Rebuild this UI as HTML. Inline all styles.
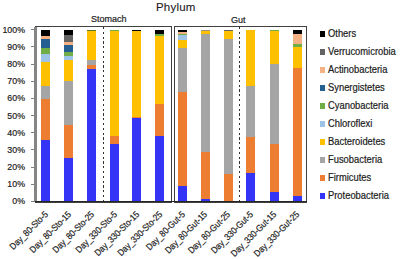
<!DOCTYPE html>
<html><head><meta charset="utf-8">
<style>
html,body{margin:0;padding:0;background:#fff;}
body{width:400px;height:259px;position:relative;overflow:hidden;font-family:"Liberation Sans",sans-serif;color:#202020;-webkit-text-stroke:0.2px #202020;}
.a{position:absolute;}
.t{position:absolute;white-space:nowrap;line-height:1;}
.yl{position:absolute;white-space:nowrap;line-height:1;font-size:9.8px;text-align:right;width:30px;transform:scaleX(0.9);transform-origin:100% 50%;}
.xl{position:absolute;white-space:nowrap;line-height:1;font-size:9.2px;transform-origin:100% 0;transform:rotate(-45deg) scaleX(0.88);text-align:right;}
.lg{position:absolute;white-space:nowrap;line-height:1;font-size:10.2px;transform:scaleX(0.92);transform-origin:0 50%;}
.sq{position:absolute;width:5.3px;height:5.3px;}
</style></head><body>

<div class="t" style="left:156px;top:2px;font-size:11.5px;letter-spacing:0.2px;color:#1a1a1a;-webkit-text-stroke:0.1px #1a1a1a">Phylum</div>
<div class="t" style="left:91.3px;top:13.5px;font-size:9.6px;transform:scaleX(0.94);transform-origin:0 0">Stomach</div>
<div class="t" style="left:231px;top:14.7px;font-size:9.6px;transform:scaleX(0.94);transform-origin:0 0">Gut</div>
<div class="yl" style="left:-5.199999999999999px;top:24.60px">100%</div>
<div class="a" style="left:31px;top:29.20px;width:4px;height:1px;background:#7f7f7f"></div>
<div class="yl" style="left:-5.199999999999999px;top:41.78px">90%</div>
<div class="a" style="left:31px;top:46.38px;width:4px;height:1px;background:#7f7f7f"></div>
<div class="yl" style="left:-5.199999999999999px;top:58.96px">80%</div>
<div class="a" style="left:31px;top:63.56px;width:4px;height:1px;background:#7f7f7f"></div>
<div class="yl" style="left:-5.199999999999999px;top:76.14px">70%</div>
<div class="a" style="left:31px;top:80.74px;width:4px;height:1px;background:#7f7f7f"></div>
<div class="yl" style="left:-5.199999999999999px;top:93.32px">60%</div>
<div class="a" style="left:31px;top:97.92px;width:4px;height:1px;background:#7f7f7f"></div>
<div class="yl" style="left:-5.199999999999999px;top:110.50px">50%</div>
<div class="a" style="left:31px;top:115.10px;width:4px;height:1px;background:#7f7f7f"></div>
<div class="yl" style="left:-5.199999999999999px;top:127.68px">40%</div>
<div class="a" style="left:31px;top:132.28px;width:4px;height:1px;background:#7f7f7f"></div>
<div class="yl" style="left:-5.199999999999999px;top:144.86px">30%</div>
<div class="a" style="left:31px;top:149.46px;width:4px;height:1px;background:#7f7f7f"></div>
<div class="yl" style="left:-5.199999999999999px;top:162.04px">20%</div>
<div class="a" style="left:31px;top:166.64px;width:4px;height:1px;background:#7f7f7f"></div>
<div class="yl" style="left:-5.199999999999999px;top:179.22px">10%</div>
<div class="a" style="left:31px;top:183.82px;width:4px;height:1px;background:#7f7f7f"></div>
<div class="yl" style="left:-5.199999999999999px;top:196.40px">0%</div>
<div class="a" style="left:31px;top:201.00px;width:4px;height:1px;background:#7f7f7f"></div>
<div class="a" style="left:41.2px;top:29.7px;width:9.1px;height:171.80px;background:#000000"></div>
<div class="a" style="left:41.2px;top:36px;width:9.1px;height:165.50px;background:#F4B183"></div>
<div class="a" style="left:41.2px;top:38.6px;width:9.1px;height:162.90px;background:#255E91"></div>
<div class="a" style="left:41.2px;top:47.8px;width:9.1px;height:153.70px;background:#70AD47"></div>
<div class="a" style="left:41.2px;top:53.8px;width:9.1px;height:147.70px;background:#9DC3E6"></div>
<div class="a" style="left:41.2px;top:61.6px;width:9.1px;height:139.90px;background:#FFC000"></div>
<div class="a" style="left:41.2px;top:86.1px;width:9.1px;height:115.40px;background:#A5A5A5"></div>
<div class="a" style="left:41.2px;top:99px;width:9.1px;height:102.50px;background:#ED7D31"></div>
<div class="a" style="left:41.2px;top:139.6px;width:9.1px;height:61.90px;background:#3434F6"></div>
<div class="a" style="left:64.1px;top:29.7px;width:9.1px;height:171.80px;background:#000000"></div>
<div class="a" style="left:64.1px;top:35px;width:9.1px;height:166.50px;background:#636363"></div>
<div class="a" style="left:64.1px;top:42px;width:9.1px;height:159.50px;background:#F4B183"></div>
<div class="a" style="left:64.1px;top:45px;width:9.1px;height:156.50px;background:#255E91"></div>
<div class="a" style="left:64.1px;top:52px;width:9.1px;height:149.50px;background:#70AD47"></div>
<div class="a" style="left:64.1px;top:55.5px;width:9.1px;height:146.00px;background:#9DC3E6"></div>
<div class="a" style="left:64.1px;top:59.6px;width:9.1px;height:141.90px;background:#FFC000"></div>
<div class="a" style="left:64.1px;top:81.1px;width:9.1px;height:120.40px;background:#A5A5A5"></div>
<div class="a" style="left:64.1px;top:125.1px;width:9.1px;height:76.40px;background:#ED7D31"></div>
<div class="a" style="left:64.1px;top:157.6px;width:9.1px;height:43.90px;background:#3434F6"></div>
<div class="a" style="left:87.0px;top:29.7px;width:9.1px;height:171.80px;background:#5A7A30"></div>
<div class="a" style="left:87.0px;top:31px;width:9.1px;height:170.50px;background:#FFC000"></div>
<div class="a" style="left:87.0px;top:59.6px;width:9.1px;height:141.90px;background:#A5A5A5"></div>
<div class="a" style="left:87.0px;top:64.6px;width:9.1px;height:136.90px;background:#ED7D31"></div>
<div class="a" style="left:87.0px;top:68.5px;width:9.1px;height:133.00px;background:#3434F6"></div>
<div class="a" style="left:110.0px;top:29.7px;width:9.1px;height:171.80px;background:#70AD47"></div>
<div class="a" style="left:110.0px;top:31px;width:9.1px;height:170.50px;background:#FFC000"></div>
<div class="a" style="left:110.0px;top:136px;width:9.1px;height:65.50px;background:#ED7D31"></div>
<div class="a" style="left:110.0px;top:144.1px;width:9.1px;height:57.40px;background:#3434F6"></div>
<div class="a" style="left:132.2px;top:29.7px;width:9.1px;height:171.80px;background:#000000"></div>
<div class="a" style="left:132.2px;top:31px;width:9.1px;height:170.50px;background:#FFC000"></div>
<div class="a" style="left:132.2px;top:117px;width:9.1px;height:84.50px;background:#ED7D31"></div>
<div class="a" style="left:132.2px;top:118px;width:9.1px;height:83.50px;background:#3434F6"></div>
<div class="a" style="left:155.1px;top:29.7px;width:9.1px;height:171.80px;background:#000000"></div>
<div class="a" style="left:155.1px;top:33.8px;width:9.1px;height:167.70px;background:#70AD47"></div>
<div class="a" style="left:155.1px;top:36px;width:9.1px;height:165.50px;background:#FFC000"></div>
<div class="a" style="left:155.1px;top:103.6px;width:9.1px;height:97.90px;background:#ED7D31"></div>
<div class="a" style="left:155.1px;top:135.5px;width:9.1px;height:66.00px;background:#3434F6"></div>
<div class="a" style="left:178.3px;top:29.7px;width:9.1px;height:171.80px;background:#000000"></div>
<div class="a" style="left:178.3px;top:31.8px;width:9.1px;height:169.70px;background:#F4B183"></div>
<div class="a" style="left:178.3px;top:33.5px;width:9.1px;height:168.00px;background:#70AD47"></div>
<div class="a" style="left:178.3px;top:34.5px;width:9.1px;height:167.00px;background:#9DC3E6"></div>
<div class="a" style="left:178.3px;top:39.8px;width:9.1px;height:161.70px;background:#FFC000"></div>
<div class="a" style="left:178.3px;top:48px;width:9.1px;height:153.50px;background:#A5A5A5"></div>
<div class="a" style="left:178.3px;top:92px;width:9.1px;height:109.50px;background:#ED7D31"></div>
<div class="a" style="left:178.3px;top:186.2px;width:9.1px;height:15.30px;background:#3434F6"></div>
<div class="a" style="left:200.8px;top:29.7px;width:9.1px;height:171.80px;background:#9C9482"></div>
<div class="a" style="left:200.8px;top:30.5px;width:9.1px;height:171.00px;background:#FFC000"></div>
<div class="a" style="left:200.8px;top:34px;width:9.1px;height:167.50px;background:#A5A5A5"></div>
<div class="a" style="left:200.8px;top:151.5px;width:9.1px;height:50.00px;background:#ED7D31"></div>
<div class="a" style="left:200.8px;top:198.6px;width:9.1px;height:2.90px;background:#3434F6"></div>
<div class="a" style="left:223.9px;top:29.7px;width:9.1px;height:171.80px;background:#636363"></div>
<div class="a" style="left:223.9px;top:30.8px;width:9.1px;height:170.70px;background:#FFC000"></div>
<div class="a" style="left:223.9px;top:38.6px;width:9.1px;height:162.90px;background:#A5A5A5"></div>
<div class="a" style="left:223.9px;top:174px;width:9.1px;height:27.50px;background:#ED7D31"></div>
<div class="a" style="left:246.2px;top:29.7px;width:9.1px;height:171.80px;background:#FFC000"></div>
<div class="a" style="left:246.2px;top:86.1px;width:9.1px;height:115.40px;background:#A5A5A5"></div>
<div class="a" style="left:246.2px;top:137px;width:9.1px;height:64.50px;background:#ED7D31"></div>
<div class="a" style="left:246.2px;top:173px;width:9.1px;height:28.50px;background:#3434F6"></div>
<div class="a" style="left:269.6px;top:29.7px;width:9.1px;height:171.80px;background:#70AD47"></div>
<div class="a" style="left:269.6px;top:31px;width:9.1px;height:170.50px;background:#FFC000"></div>
<div class="a" style="left:269.6px;top:63.75px;width:9.1px;height:137.75px;background:#A5A5A5"></div>
<div class="a" style="left:269.6px;top:143.6px;width:9.1px;height:57.90px;background:#ED7D31"></div>
<div class="a" style="left:269.6px;top:192px;width:9.1px;height:9.50px;background:#3434F6"></div>
<div class="a" style="left:292.6px;top:29.7px;width:9.1px;height:171.80px;background:#000000"></div>
<div class="a" style="left:292.6px;top:33.75px;width:9.1px;height:167.75px;background:#F4B183"></div>
<div class="a" style="left:292.6px;top:43.75px;width:9.1px;height:157.75px;background:#70AD47"></div>
<div class="a" style="left:292.6px;top:46.5px;width:9.1px;height:155.00px;background:#FFC000"></div>
<div class="a" style="left:292.6px;top:68.1px;width:9.1px;height:133.40px;background:#ED7D31"></div>
<div class="a" style="left:292.6px;top:195.6px;width:9.1px;height:5.90px;background:#3434F6"></div>
<div class="a" style="left:35px;top:26px;width:135px;height:175px;border:1px solid #404040;box-sizing:content-box"></div>
<div class="a" style="left:174px;top:26px;width:131px;height:175px;border:1px solid #404040"></div>
<div class="a" style="left:34.2px;top:26.5px;width:2.6px;height:174.5px;background:#858585"></div>
<div class="a" style="left:35px;top:200.8px;width:272px;height:1.3px;background:#262626"></div>
<div class="a" style="left:102.55px;top:26.5px;width:1.5px;height:174.5px;background:repeating-linear-gradient(to bottom,#303030 0,#303030 2.2px,transparent 2.2px,transparent 4.8px)"></div>
<div class="a" style="left:238.55px;top:26.5px;width:1.5px;height:174.5px;background:repeating-linear-gradient(to bottom,#303030 0,#303030 2.2px,transparent 2.2px,transparent 4.8px)"></div>
<div class="xl" style="right:356.45px;top:210px">Day_80-Sto-5</div>
<div class="xl" style="right:333.55px;top:210px">Day_80-Sto-15</div>
<div class="xl" style="right:310.65px;top:210px">Day_80-Sto-25</div>
<div class="xl" style="right:287.65px;top:210px">Day_330-Sto-5</div>
<div class="xl" style="right:265.45px;top:210px">Day_330-Sto-15</div>
<div class="xl" style="right:242.55px;top:210px">Day_330-Sto-25</div>
<div class="xl" style="right:219.35px;top:210px">Day_80-Gut-5</div>
<div class="xl" style="right:196.85px;top:210px">Day_80-Gut-15</div>
<div class="xl" style="right:173.75px;top:210px">Day_80-Gut-25</div>
<div class="xl" style="right:151.45px;top:210px">Day_330-Gut-5</div>
<div class="xl" style="right:128.05px;top:210px">Day_330-Gut-15</div>
<div class="xl" style="right:105.05px;top:210px">Day_330-Gut-25</div>
<div class="sq" style="left:320px;top:31.30px;background:#000000"></div>
<div class="lg" style="left:328.4px;top:28.80px">Others</div>
<div class="sq" style="left:320px;top:49.30px;background:#636363"></div>
<div class="lg" style="left:328.4px;top:46.80px">Verrucomicrobia</div>
<div class="sq" style="left:320px;top:67.30px;background:#F4B183"></div>
<div class="lg" style="left:328.4px;top:64.80px">Actinobacteria</div>
<div class="sq" style="left:320px;top:85.30px;background:#255E91"></div>
<div class="lg" style="left:328.4px;top:82.80px">Synergistetes</div>
<div class="sq" style="left:320px;top:103.30px;background:#70AD47"></div>
<div class="lg" style="left:328.4px;top:100.80px">Cyanobacteria</div>
<div class="sq" style="left:320px;top:121.30px;background:#9DC3E6"></div>
<div class="lg" style="left:328.4px;top:118.80px">Chloroflexi</div>
<div class="sq" style="left:320px;top:139.30px;background:#FFC000"></div>
<div class="lg" style="left:328.4px;top:136.80px">Bacteroidetes</div>
<div class="sq" style="left:320px;top:157.30px;background:#A5A5A5"></div>
<div class="lg" style="left:328.4px;top:154.80px">Fusobacteria</div>
<div class="sq" style="left:320px;top:175.30px;background:#ED7D31"></div>
<div class="lg" style="left:328.4px;top:172.80px">Firmicutes</div>
<div class="sq" style="left:320px;top:193.30px;background:#3434F6"></div>
<div class="lg" style="left:328.4px;top:190.80px">Proteobacteria</div>
</body></html>
